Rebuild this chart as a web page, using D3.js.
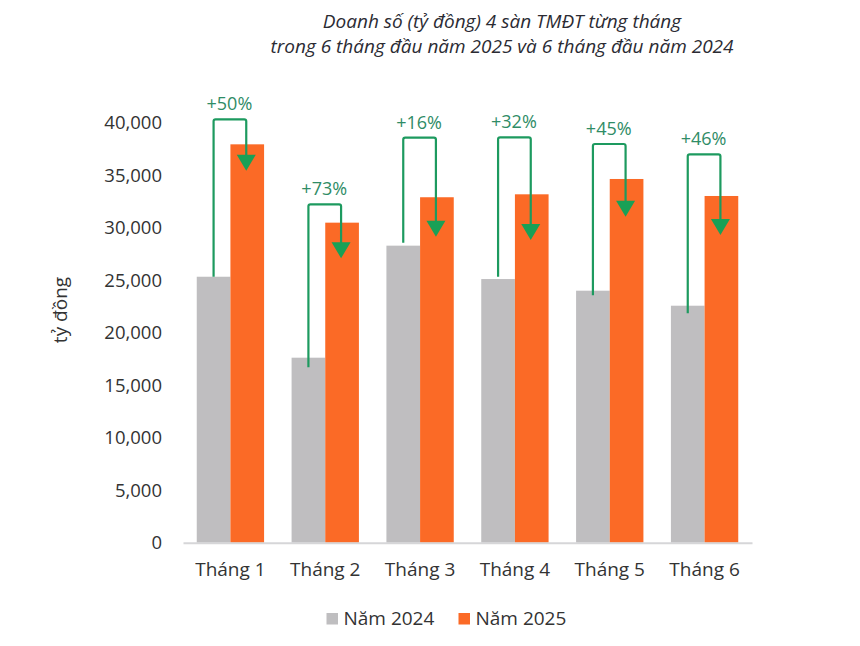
<!DOCTYPE html>
<html>
<head>
<meta charset="utf-8">
<script src="https://cdn.jsdelivr.net/npm/d3@7.9.0/dist/d3.min.js"></script>
<style>
  body { margin: 0; background: #fff; }
  svg { display: block; font-family: "Open Sans", sans-serif; }
</style>
</head>
<body>
<svg width="860" height="646"></svg>
<script>
// chart data (tỷ đồng)
const months = ['Tháng 1', 'Tháng 2', 'Tháng 3', 'Tháng 4', 'Tháng 5', 'Tháng 6'];
const years = ['Năm 2024', 'Năm 2025'];
const sales2024 = [25330, 17620, 28290, 25110, 24000, 22570];
const sales2025 = [37940, 30480, 32900, 33180, 34640, 33020];
const growthLabels = ['+50%', '+73%', '+16%', '+32%', '+45%', '+46%'];
// arrow annotation levels, in the same units as the bars
const linkFrom = [25330, 16700, 28570, 25330, 23560, 21850];
const linkTop = [40320, 32230, 38570, 38610, 37970, 36990];
const arrowTip = [35430, 27090, 29140, 28830, 31050, 29300];
const yTicks = [0, 5000, 10000, 15000, 20000, 25000, 30000, 35000, 40000];

const colors = ['#bfbec0', '#fb6a26'];
const green = '#1d9a5f';

const svg = d3.select('svg');

const x = d3.scaleBand().domain(months).range([183, 752]).paddingInner(0.29).paddingOuter(0.145);
const x1 = d3.scaleBand().domain(years).range([0, x.bandwidth()]);
const y = d3.scaleLinear().domain([0, 40000]).range([542.7, 122.7]);

// title
const title = svg.append('text')
    .attr('text-anchor', 'middle')
    .attr('font-style', 'italic')
    .attr('font-size', 19)
    .attr('fill', '#2b2b33');
title.append('tspan').attr('x', 502).attr('y', 28).text('Doanh số (tỷ đồng) 4 sàn TMĐT từng tháng');
title.append('tspan').attr('x', 502).attr('y', 53).text('trong 6 tháng đầu năm 2025 và 6 tháng đầu năm 2024');

// y axis
const yAxis = svg.append('g')
    .attr('transform', 'translate(183,0)')
    .call(d3.axisLeft(y).tickValues(yTicks).tickSize(0).tickPadding(21).tickFormat(d3.format(',')));
yAxis.select('.domain').remove();
yAxis.selectAll('text').attr('font-size', 18.5).attr('fill', '#333').attr('font-family', '"Open Sans", sans-serif');

svg.append('text')
    .attr('transform', 'translate(67,310) rotate(-90)')
    .attr('text-anchor', 'middle')
    .attr('font-size', 19)
    .attr('fill', '#333')
    .text('tỷ đồng');

// bars
const series = [sales2024, sales2025];
series.forEach((values, si) => {
    svg.append('g')
        .selectAll('rect')
        .data(values)
        .join('rect')
        .attr('x', (d, i) => x(months[i]) + x1(years[si]))
        .attr('y', d => y(d))
        .attr('width', x1.bandwidth())
        .attr('height', d => y(0) - y(d))
        .attr('fill', colors[si]);
});

// x axis
const xAxis = svg.append('g')
    .attr('transform', `translate(0,${y(0)})`)
    .call(d3.axisBottom(x).tickSize(0).tickPadding(20));
xAxis.select('.domain').attr('stroke', '#d6d6d8').attr('stroke-width', 2);
xAxis.selectAll('text').attr('font-size', 19).attr('fill', '#333').attr('font-family', '"Open Sans", sans-serif');

// growth arrows
const ann = svg.append('g');
months.forEach((m, i) => {
    const xl = x(m) + x1(years[0]) + x1.bandwidth() / 2;
    const xr = x(m) + x1(years[1]) + x1.bandwidth() / 2 - 1;
    const yt = y(linkTop[i]);
    const tip = y(arrowTip[i]);
    const r = 2;
    ann.append('path')
        .attr('d', `M${xl},${y(linkFrom[i])} V${yt + r} Q${xl},${yt} ${xl + r},${yt} H${xr - r} Q${xr},${yt} ${xr},${yt + r} V${tip - 10}`)
        .attr('fill', 'none')
        .attr('stroke', green)
        .attr('stroke-width', 2.2);
    ann.append('path')
        .attr('d', `M${xr - 9.5},${tip - 16} L${xr + 9.5},${tip - 16} L${xr},${tip} Z`)
        .attr('fill', '#19a056');
    ann.append('text')
        .attr('x', x(m) + x.bandwidth() / 2 - 1)
        .attr('y', yt - 9)
        .attr('text-anchor', 'middle')
        .attr('font-size', 18)
        .attr('fill', '#2f8c66')
        .text(growthLabels[i]);
});

// legend
const legendX = [326.5, 458.5];
years.forEach((yr, i) => {
    svg.append('rect')
        .attr('x', legendX[i]).attr('y', 613)
        .attr('width', 11.5).attr('height', 11.5)
        .attr('fill', colors[i]);
    svg.append('text')
        .attr('x', legendX[i] + 17).attr('y', 624.5)
        .attr('font-size', 19)
        .attr('fill', '#333')
        .text(yr);
});
</script>
</body>
</html>
